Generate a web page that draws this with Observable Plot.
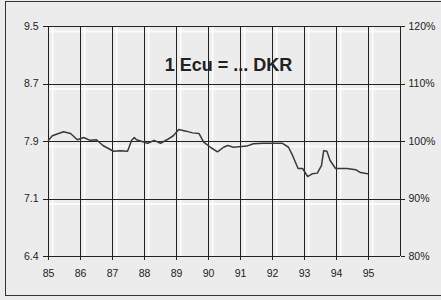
<!DOCTYPE html>
<html>
<head>
<meta charset="utf-8">
<script src="https://cdn.jsdelivr.net/npm/d3@7"></script>
<script src="https://cdn.jsdelivr.net/npm/@observablehq/plot@0.6"></script>
<style>
  html, body { margin: 0; padding: 0; background: #ececec; }
  #wrap { position: relative; width: 441px; height: 300px; overflow: hidden; }
  #frame { position: absolute; left: 5px; top: 1px; width: 440px; height: 293px; border: 1.5px solid #333; pointer-events: none; }
</style>
</head>
<body>
<div id="wrap"><div id="frame"></div></div>
<script>
const title = "1 Ecu = ... DKR";
const xTicks = [85, 86, 87, 88, 89, 90, 91, 92, 93, 94, 95];
const xGrid = [85, 86, 87, 88, 89, 90, 91, 92, 93, 94, 95, 96];
const yTicks = [80, 90, 100, 110, 120];
const leftLabels = ["6.4", "7.1", "7.9", "8.7", "9.5"];
const dates = [85.0, 85.12, 85.47, 85.69, 85.9, 86.1, 86.3, 86.5, 86.7, 87.03, 87.25, 87.47, 87.6, 87.68,
  87.75, 88.1, 88.3, 88.5, 88.7, 88.9, 89.07, 89.3, 89.5, 89.7, 89.85, 90.06, 90.28, 90.47, 90.6,
  90.78, 91.2, 91.4, 91.7, 92.03, 92.3, 92.5, 92.6, 92.8, 92.94, 93.1, 93.25, 93.4, 93.53, 93.6,
  93.7, 93.8, 93.97, 94.33, 94.6, 94.75, 94.97];
const values = [100.2, 101.0, 101.7, 101.4, 100.3, 100.7, 100.2, 100.3, 99.3, 98.3, 98.4, 98.3, 100.2, 100.7,
  100.3, 99.7, 100.2, 99.7, 100.3, 101.0, 102.1, 101.8, 101.5, 101.4, 99.9, 99.0, 98.2, 99.0, 99.3,
  99.0, 99.2, 99.6, 99.7, 99.7, 99.7, 99.0, 97.9, 95.3, 95.3, 93.9, 94.4, 94.5, 95.8, 98.4,
  98.3, 96.7, 95.3, 95.3, 95.1, 94.6, 94.4];
const series = dates.map((d, i) => ({date: d, value: values[i]}));

const chart = Plot.plot({
  width: 441,
  height: 300,
  marginLeft: 48,
  marginRight: 41,
  marginTop: 26,
  marginBottom: 44,
  style: {background: "#ececec", fontFamily: "Arial, 'Liberation Sans', sans-serif", fontSize: "10.5px", color: "#222"},
  x: {domain: [85, 96]},
  y: {domain: [80, 120]},
  marks: [
    Plot.ruleX(xGrid.slice(0, -1), {stroke: "white", strokeWidth: 2, dx: 4, strokeOpacity: 0.8}),
    Plot.ruleY(yTicks.slice(1), {stroke: "white", strokeWidth: 2, dy: 5, strokeOpacity: 0.8}),
    Plot.ruleX(xGrid, {stroke: "#222", strokeWidth: 1, shapeRendering: "crispEdges"}),
    Plot.ruleY(yTicks, {stroke: "#222", strokeWidth: 1, shapeRendering: "crispEdges"}),
    Plot.line(series, {x: "date", y: "value", stroke: "#3a3a3a", strokeWidth: 1.5}),
    Plot.axisY(yTicks, {anchor: "left", label: null, tickSize: 5, tickPadding: 5, tickFormat: d => leftLabels[yTicks.indexOf(d)], stroke: "#222", fill: "#222", shapeRendering: "crispEdges"}),
    Plot.axisY(yTicks, {anchor: "right", label: null, tickSize: 4, tickPadding: 4, tickFormat: d => d + "%", stroke: "#222", fill: "#222", shapeRendering: "crispEdges"}),
    Plot.axisX(xTicks, {anchor: "bottom", label: null, tickSize: 4, tickPadding: 9, tickFormat: d => String(d), stroke: "#222", fill: "#222", shapeRendering: "crispEdges"}),
    Plot.text([title], {frameAnchor: "top", dy: 32, fontSize: 18, fontWeight: 600, fill: "#222", dx: 4})
  ]
});
document.getElementById("wrap").prepend(chart);
</script>
</body>
</html>
